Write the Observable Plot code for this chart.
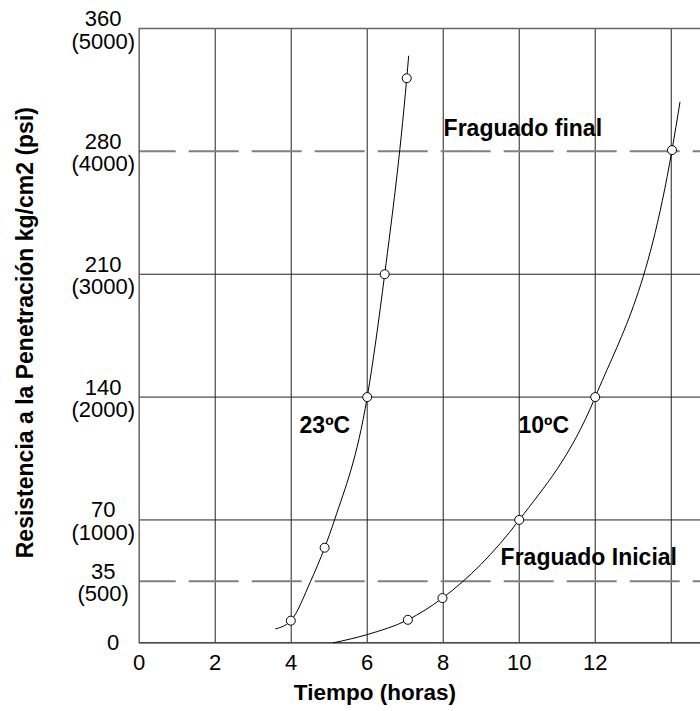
<!DOCTYPE html>
<html><head><meta charset="utf-8">
<script src="https://cdn.jsdelivr.net/npm/d3@7"></script>
<script src="https://cdn.jsdelivr.net/npm/@observablehq/plot@0.6"></script>
<style>body{margin:0;background:#fff} svg{display:block}</style>
</head><body><div id="chart"></div>
<script>
// 23 ºC curve (hours, psi)
const line23Hours = [3.59, 3.99, 4.51, 4.88, 5.14, 6.0, 6.46, 7.04, 7.09];
const line23Psi   = [114, 180, 500, 774, 1000, 2000, 3000, 4595, 4775];
const dots23Hours = [3.99, 4.88, 6.0, 6.46, 7.04];
const dots23Psi   = [180, 774, 2000, 3000, 4595];
// 10 ºC curve
const line10Hours = [5.11, 6.0, 7.07, 7.98, 10.0, 12.0, 14.02, 14.23];
const line10Psi   = [0, 67, 187, 364, 1000, 2000, 4010, 4400];
const dots10Hours = [7.07, 7.98, 10.0, 12.0, 14.02];
const dots10Psi   = [187, 364, 1000, 2000, 4010];
// ticks
const xTicks = [0, 2, 4, 6, 8, 10, 12];
const xGrid = [2, 4, 6, 8, 10, 12, 14];
const yTicksPsi = [0, 500, 1000, 2000, 3000, 4000, 5000];
const yTicksKg = ["0", "35", "70", "140", "210", "280", "360"];
const ySolidGrid = [1000, 2000, 3000];
const yDashed = [500, 4000];
// annotations
const noteText = ["Fraguado final", "Fraguado Inicial", "23ºC", "10ºC"];
const noteHours = [8.01, 9.51, 4.22, 9.98];
const notePsi = [4189, 693, 1767, 1767];

const line23 = line23Hours.map((h, i) => ({h, p: line23Psi[i]}));
const line10 = line10Hours.map((h, i) => ({h, p: line10Psi[i]}));
const dots = [
  ...dots23Hours.map((h, i) => ({h, p: dots23Psi[i]})),
  ...dots10Hours.map((h, i) => ({h, p: dots10Psi[i]}))
];
const notes = noteText.map((t, i) => ({t, h: noteHours[i], p: notePsi[i]}));
const yLabels = yTicksPsi.map((p, i) => ({p, t: i === 0 ? yTicksKg[i] : yTicksKg[i] + "\n(" + p + ")"}));

const font = "'Liberation Sans', Arial, Helvetica, sans-serif";
const chart = Plot.plot({
  width: 700, height: 711,
  marginLeft: 138.7, marginRight: 0, marginTop: 28, marginBottom: 68.7,
  style: {fontFamily: font, background: "#fff", color: "#000"},
  x: {domain: [0, 14.77], axis: null},
  y: {domain: [0, 5000], axis: null},
  marks: [
    Plot.ruleX(xGrid, {stroke: "#222", strokeWidth: 1}),
    Plot.ruleY(ySolidGrid, {stroke: "#222", strokeWidth: 1}),
    Plot.ruleY(yDashed, {stroke: "#808080", strokeWidth: 2, strokeDasharray: "50,13", strokeDashoffset: 13}),
    Plot.ruleY([0], {stroke: "#111", strokeWidth: 1.2}),
    Plot.ruleY([5000], {stroke: "#666", strokeWidth: 1.5}),
    Plot.ruleX([0], {stroke: "#666", strokeWidth: 1.5}),
    Plot.line(line23, {x: "h", y: "p", curve: "monotone-x", stroke: "#000", strokeWidth: 1}),
    Plot.line(line10, {x: "h", y: "p", curve: "monotone-x", stroke: "#000", strokeWidth: 1}),
    Plot.dot(dots, {x: "h", y: "p", r: 4.5, fill: "#fff", stroke: "#000", strokeWidth: 1}),
    Plot.text(notes, {x: "h", y: "p", text: "t", textAnchor: "start", fontSize: 23, fontWeight: "bold", fill: "#000"}),
    Plot.text(xTicks, {x: d => d, frameAnchor: "bottom", dy: 27, text: d => String(d), fontSize: 22, fill: "#000"}),
    Plot.text(yLabels.filter(d => d.p !== 0), {y: "p", frameAnchor: "left", dx: -36, dy: 1.5, text: "t", textAnchor: "middle", lineAnchor: "middle", lineHeight: 1.03, fontSize: 22, fill: "#000"}),
    Plot.text(yLabels.filter(d => d.p === 0), {y: "p", frameAnchor: "left", dx: -26, text: "t", textAnchor: "middle", lineAnchor: "middle", fontSize: 22, fill: "#000"}),
    Plot.text(["Tiempo (horas)"], {frameAnchor: "bottom", dx: -45, dy: 50, text: d => d, fontSize: 22.5, fontWeight: "bold", fill: "#000", textAnchor: "middle", lineAnchor: "middle"}),
    Plot.text(["Resistencia a la Penetración kg/cm2 (psi)"], {frameAnchor: "left", dx: -113.2, dy: -3, rotate: -90, text: d => d, fontSize: 23, fontWeight: "bold", fill: "#000", textAnchor: "middle", lineAnchor: "middle"})
  ]
});
document.getElementById("chart").appendChild(chart);
</script>
</body></html>
